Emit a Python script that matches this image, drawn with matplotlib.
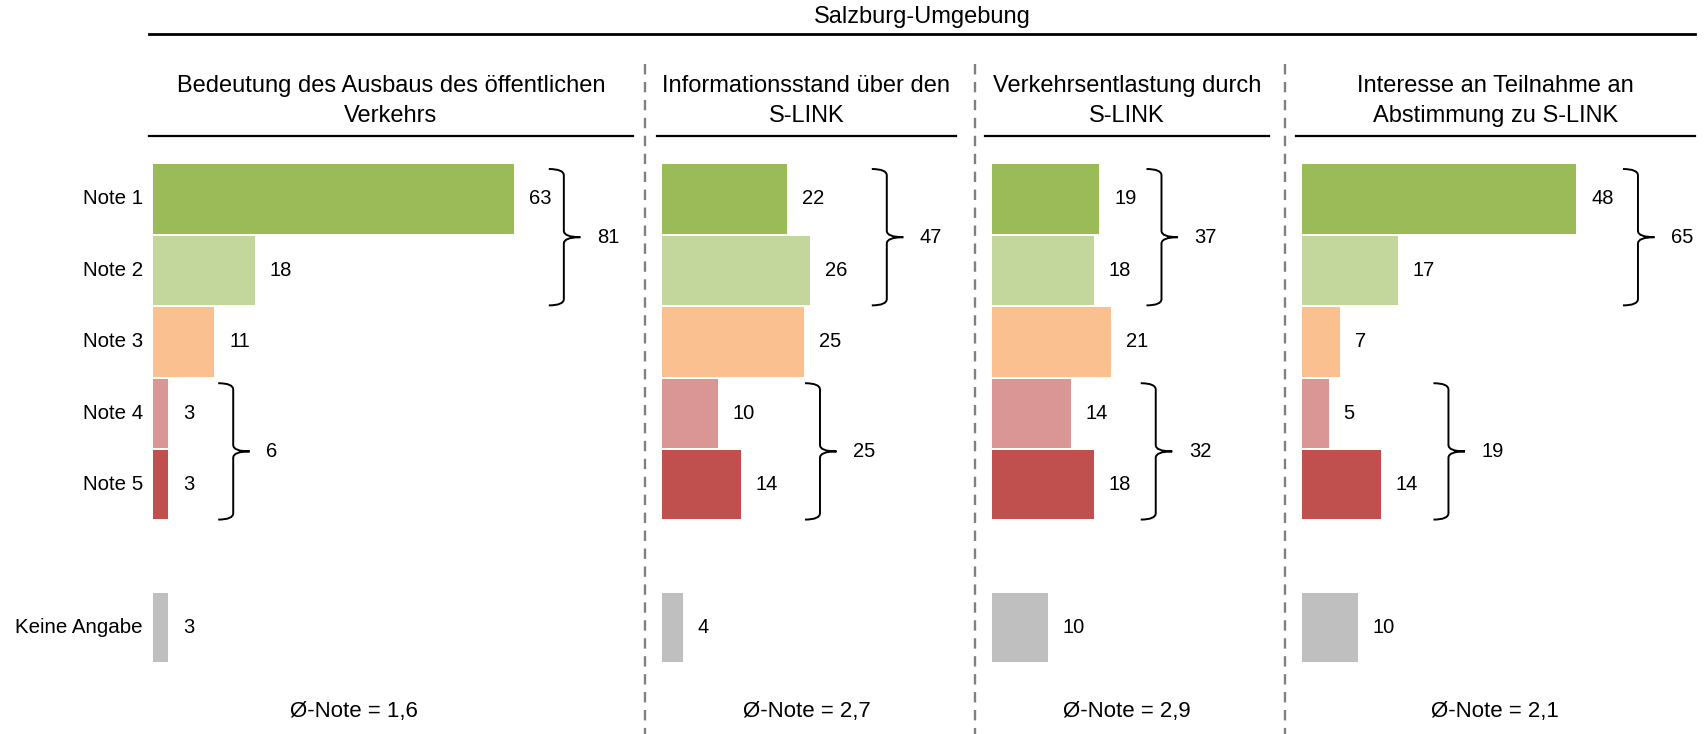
import matplotlib
matplotlib.use('Agg')
import matplotlib.pyplot as plt
from matplotlib.lines import Line2D
from matplotlib.path import Path
from matplotlib.patches import PathPatch

plt.rcParams['font.family'] = ['Liberation Sans', 'DejaVu Sans']

# Daten
region = "Salzburg-Umgebung"
categories = ["Note 1", "Note 2", "Note 3", "Note 4", "Note 5", "Keine Angabe"]
panel_titles = [
    "Bedeutung des Ausbaus des öffentlichen\nVerkehrs",
    "Informationsstand über den\nS-LINK",
    "Verkehrsentlastung durch\nS-LINK",
    "Interesse an Teilnahme an\nAbstimmung zu S-LINK",
]
values = [
    [63, 18, 11, 3, 3, 3],
    [22, 26, 25, 10, 14, 4],
    [19, 18, 21, 14, 18, 10],
    [48, 17, 7, 5, 14, 10],
]
top_sums = [81, 47, 37, 65]      # Note 1+2
bottom_sums = [6, 25, 32, 19]    # Note 4+5
mean_grades = ["1,6", "2,7", "2,9", "2,1"]
colors = ["#9BBB59", "#C3D69B", "#FAC090", "#D99694", "#C0504D", "#BFBFBF"]

W, H = 1704, 734
fig = plt.figure(figsize=(W / 100, H / 100), dpi=100)

def fx(x):
    return x / W

def fy(y):
    return 1 - y / H

px_per_unit = 5.76
row_pitch = 71.4
row0 = 199
rows = [0, 1, 2, 3, 4, 6]

# Layout (Pixel)
bar_left = [152, 661, 991, 1301]
line_span = [(149, 633), (657, 956), (985, 1269), (1296, 1695)]
footer_x = [354, 807, 1127, 1495]
separators = [645, 975, 1285]
brace_gap = [(8.5, 11.1), (13.2, 13.6), (10.6, 10.6), (10.5, 11.6)]

# Kopfzeile
fig.text(fx(922), fy(17), region, ha='center', va='center', fontsize=17)
fig.add_artist(Line2D([fx(149), fx(1695)], [fy(34), fy(34)], color='black', lw=2.0))

for xs in separators:
    fig.add_artist(Line2D([fx(xs), fx(xs)], [fy(64), fy(734)], color='#808080', lw=1.7,
                          linestyle=(0, (4.4, 3.2))))

for i in range(4):
    l, r = line_span[i]
    cx = (l + r) / 2
    fig.text(fx(cx), fy(101), panel_titles[i], ha='center', va='center', fontsize=17,
             linespacing=1.45)
    fig.add_artist(Line2D([fx(l), fx(r)], [fy(136), fy(136)], color='black', lw=1.6))

    width_px = r + 9 - bar_left[i]
    top = row0 - 0.5 * row_pitch
    bottom = row0 + 6.5 * row_pitch
    ax = fig.add_axes([fx(bar_left[i]), fy(bottom), width_px / W, (bottom - top) / H])
    ax.set_xlim(0, width_px / px_per_unit)
    ax.set_ylim(6.5, -0.5)
    ax.axis('off')

    vals = values[i]
    ax.barh(rows, vals, height=1.0, color=colors, edgecolor='white', linewidth=1.4)
    for y, v in zip(rows, vals):
        ax.annotate(str(v), (v, y), xytext=(10, 0), textcoords='offset points',
                    ha='left', va='center', fontsize=14.5)

    # Klammern
    hook = 15 / px_per_unit
    tip = 16.5 / px_per_unit
    for k, (r0, r1, s) in enumerate([(0, 1, top_sums[i]), (3, 4, bottom_sums[i])]):
        x0 = max(vals[r0], vals[r1]) + brace_gap[i][k]
        yt, yb = r0 - 0.42, r1 + 0.49
        ym = (yt + yb) / 2
        c = 0.09
        verts = [(x0 - hook, yt), (x0, yt), (x0, yt + c),
                 (x0, ym - c), (x0, ym), (x0 + tip, ym),
                 (x0, ym), (x0, ym + c),
                 (x0, yb - c), (x0, yb), (x0 - hook, yb)]
        codes = [Path.MOVETO, Path.CURVE3, Path.CURVE3,
                 Path.LINETO, Path.CURVE3, Path.CURVE3,
                 Path.CURVE3, Path.CURVE3,
                 Path.LINETO, Path.CURVE3, Path.CURVE3]
        ax.add_patch(PathPatch(Path(verts, codes), fill=False, lw=1.4, edgecolor='black',
                               clip_on=False))
        ax.annotate(str(s), (x0 + tip, ym), xytext=(12, 0), textcoords='offset points',
                    ha='left', va='center', fontsize=14.5, annotation_clip=False)

    if i == 0:
        for y, cat in zip(rows, categories):
            ax.annotate(cat, (0, y), xytext=(-6.5, 0), textcoords='offset points',
                        ha='right', va='center', fontsize=14.8, annotation_clip=False)

    fig.text(fx(footer_x[i]), fy(712), "Ø-Note = " + mean_grades[i], ha='center',
             va='center', fontsize=16)

fig.savefig('out.png', dpi=100)
